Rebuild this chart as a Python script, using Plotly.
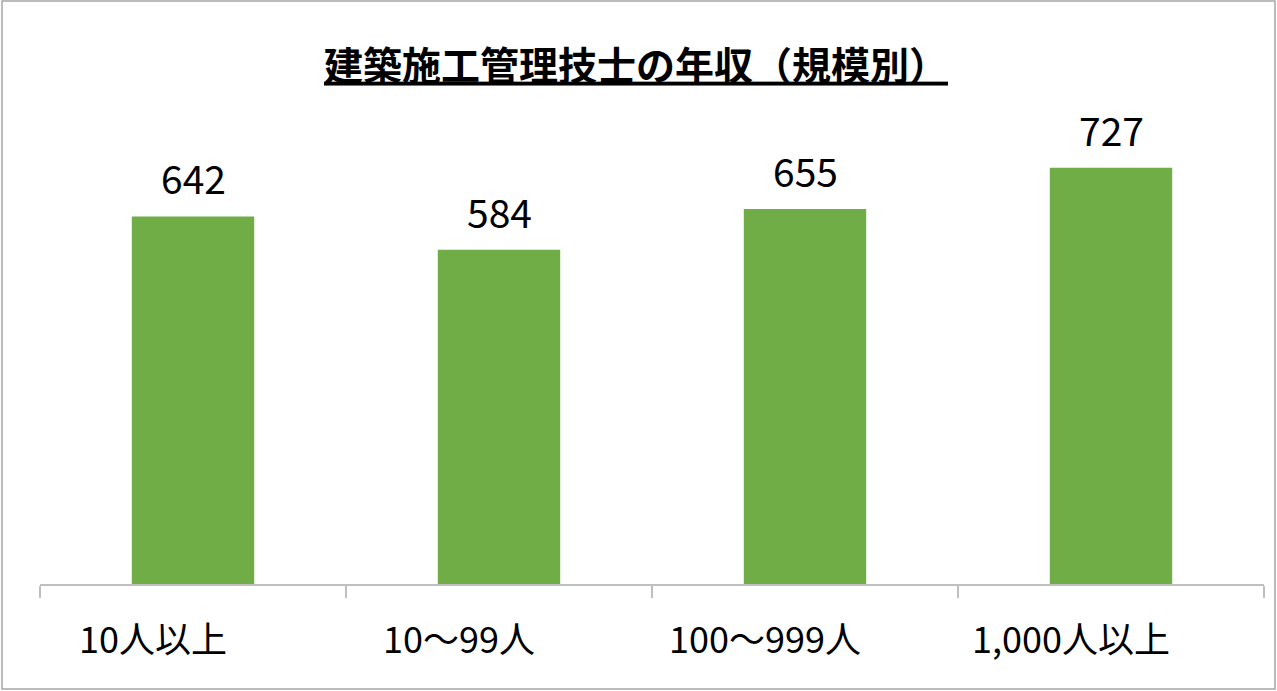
import plotly.graph_objects as go

categories = ["10人以上", "10～99人", "100～999人", "1,000人以上"]
values = [642, 584, 655, 727]
title_text = "建築施工管理技士の年収（規模別）"

W, H = 1277, 691
ml, mr, mt, mb = 40, 13, 126, 107
FONT = "Noto Sans CJK JP, Noto Sans, sans-serif"

fig = go.Figure()
fig.add_trace(go.Bar(
    x=categories, y=values,
    marker=dict(color="#70AD47", line=dict(width=0)),
    width=0.4,
    hoverinfo="x+y",
))

for c, v in zip(categories, values):
    fig.add_annotation(x=c, y=v, xref="x", yref="y", text=str(v),
                       showarrow=False, yanchor="bottom", yshift=9,
                       font=dict(family=FONT, size=39, color="#000000"))

pw = W - ml - mr
ph = H - mt - mb
fig.add_shape(type="rect", xref="paper", yref="paper",
              x0=(2 - ml) / pw, x1=(1275 - ml) / pw,
              y0=-(689 - (H - mb)) / ph, y1=(H - mb - 1) / ph,
              line=dict(color="#a6a6a6", width=1.5), fillcolor="rgba(0,0,0,0)", layer="below")

fig.update_layout(
    width=W, height=H,
    margin=dict(l=ml, r=mr, t=mt, b=mb),
    paper_bgcolor="white", plot_bgcolor="white",
    title=dict(text="<b><u>" + title_text + "</u></b>", x=636 / W, xref="container",
               xanchor="center", y=1 - 66 / H, yanchor="middle", yref="container",
               font=dict(family=FONT, size=39, color="#000000")),
    xaxis=dict(type="category", showline=True, linecolor="#bfbfbf", linewidth=1.5,
               ticks="outside", tickson="boundaries", ticklen=12, tickcolor="#bfbfbf",
               tickwidth=1.5, showgrid=False, ticklabelstandoff=24, ticklabelshift=-40,
               tickfont=dict(family=FONT, size=36, color="#000000"), fixedrange=True),
    yaxis=dict(range=[0, 800], visible=False, showgrid=False, zeroline=False, fixedrange=True),
    showlegend=False, bargap=0.6,
)

fig.write_html("out.html", config={"displayModeBar": False},
               post_script="document.body.style.margin='0px';")
